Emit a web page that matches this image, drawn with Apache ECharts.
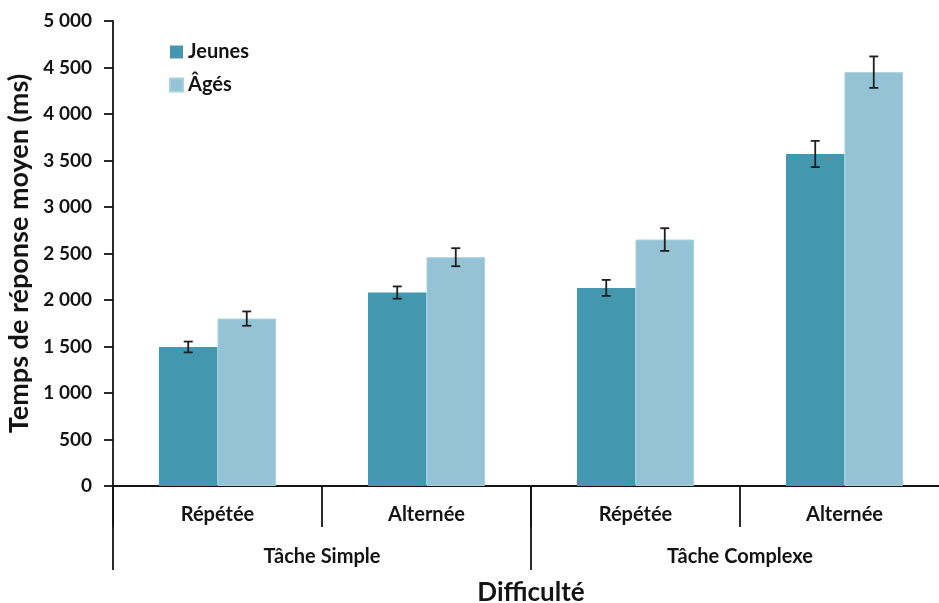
<!DOCTYPE html>
<html>
<head>
<meta charset="utf-8">
<script src="https://cdn.jsdelivr.net/npm/echarts@6/dist/echarts.min.js"></script>
<style>
  html, body { margin: 0; padding: 0; background: #fff; }
  #chart { width: 939px; height: 603px; }
</style>
</head>
<body>
<div id="chart"></div>
<script>
// Conditions (bottom axis, inner level) and task groups (outer level)
const categories = ['Répétée', 'Alternée', 'Répétée', 'Alternée'];
const groups = ['Tâche Simple', 'Tâche Complexe'];

// Mean response time (ms) and its error margin, per age group
const jeunes = [1495, 2080, 2130, 3570];
const jeunesErr = [58, 66, 86, 141];
const ages = [1800, 2460, 2650, 4450];
const agesErr = [77, 97, 122, 169];

// Value axis ticks
const yMin = 0;
const yMax = 5000;
const yStep = 500;

const FONT = 'Lato';
const INK = '#141414';
const COL_JEUNES = '#4398b0';
const COL_AGES = '#93c3d5';
const CAT_GAP = 0.44; // share of each band left empty around the pair of bars

function fmtThousands(v) {
  return String(v).replace(/\B(?=(\d{3})+(?!\d))/g, ' ');
}

// Error bar (vertical whisker with caps) centred on one of the two bars of a band
function errorBarRenderer(side) {
  return function (params, api) {
    const idx = api.value(0);
    const mean = api.value(1);
    const err = api.value(2);
    const band = api.size([1, 0])[0];
    const barW = band * (1 - CAT_GAP) / 2;
    const base = api.coord([idx, mean]);
    const x = base[0] + side * barW / 2;
    const yTop = api.coord([idx, mean + err])[1];
    const yBot = api.coord([idx, mean - err])[1];
    const cap = 4.5;
    const style = { stroke: '#1e1e1e', lineWidth: 1.8 };
    return {
      type: 'group',
      children: [
        { type: 'line', shape: { x1: x, y1: yTop, x2: x, y2: yBot }, style: style },
        { type: 'line', shape: { x1: x - cap, y1: yTop, x2: x + cap, y2: yTop }, style: style },
        { type: 'line', shape: { x1: x - cap, y1: yBot, x2: x + cap, y2: yBot }, style: style }
      ]
    };
  };
}

const chart = echarts.init(document.getElementById('chart'), null, { renderer: 'canvas' });

chart.setOption({
  animation: false,
  backgroundColor: '#ffffff',
  textStyle: { fontFamily: FONT, color: INK, fontWeight: 'bold' },
  legend: {
    orient: 'vertical',
    left: 164,
    top: 37,
    itemWidth: 13,
    itemHeight: 13,
    itemGap: 13,
    icon: 'rect',
    textStyle: { fontFamily: FONT, fontSize: 20, fontWeight: 'bold', color: INK },
    data: ['Jeunes', 'Âgés']
  },
  grid: { left: 113, top: 21, width: 836, bottom: 117, containLabel: false, outerBoundsMode: 'none' },
  xAxis: [
    {
      type: 'category',
      data: categories,
      position: 'bottom',
      axisLine: { show: true, lineStyle: { color: INK, width: 1.8 } },
      axisTick: { show: true, length: 41, lineStyle: { color: INK, width: 1.8 } },
      axisLabel: { fontFamily: FONT, fontSize: 20, fontWeight: 'bold', color: INK, margin: 19 },
      splitLine: { show: false }
    },
    {
      type: 'category',
      data: groups,
      position: 'bottom',
      axisLine: { show: false },
      axisTick: { show: true, length: 84, lineStyle: { color: INK, width: 1.8 } },
      axisLabel: { fontFamily: FONT, fontSize: 20, fontWeight: 'bold', color: INK, margin: 61 },
      splitLine: { show: false },
      name: 'Difficulté',
      nameLocation: 'middle',
      nameGap: 94,
      nameTextStyle: { fontFamily: FONT, fontSize: 26, fontWeight: 'bold', color: INK }
    }
  ],
  yAxis: {
    type: 'value',
    min: yMin,
    max: yMax,
    interval: yStep,
    axisLine: { show: true, lineStyle: { color: INK, width: 1.8 } },
    axisTick: { show: true, inside: false, length: 9, lineStyle: { color: INK, width: 1.8 } },
    axisLabel: { fontFamily: FONT, fontSize: 19, fontWeight: 'bold', color: INK, margin: 21, formatter: fmtThousands },
    splitLine: { show: false },
    name: 'Temps de réponse moyen (ms)',
    nameLocation: 'middle',
    nameGap: 79,
    nameTextStyle: { fontFamily: FONT, fontSize: 27, fontWeight: 'bold', color: INK }
  },
  series: [
    {
      name: 'Jeunes',
      type: 'bar',
      xAxisIndex: 0,
      data: jeunes,
      barGap: '0%',
      barCategoryGap: (CAT_GAP * 100) + '%',
      itemStyle: { color: COL_JEUNES }
    },
    {
      name: 'Âgés',
      type: 'bar',
      xAxisIndex: 0,
      data: ages,
      barGap: '0%',
      barCategoryGap: (CAT_GAP * 100) + '%',
      itemStyle: { color: COL_AGES, borderColor: '#a7cfdd', borderWidth: 1 }
    },
    {
      name: 'errJeunes',
      type: 'custom',
      xAxisIndex: 0,
      renderItem: errorBarRenderer(-1),
      data: jeunes.map((v, i) => [i, v, jeunesErr[i]]),
      encode: { x: 0, y: 1 },
      z: 5
    },
    {
      name: 'errAges',
      type: 'custom',
      xAxisIndex: 0,
      renderItem: errorBarRenderer(1),
      data: ages.map((v, i) => [i, v, agesErr[i]]),
      encode: { x: 0, y: 1 },
      z: 5
    }
  ]
});
</script>
</body>
</html>
